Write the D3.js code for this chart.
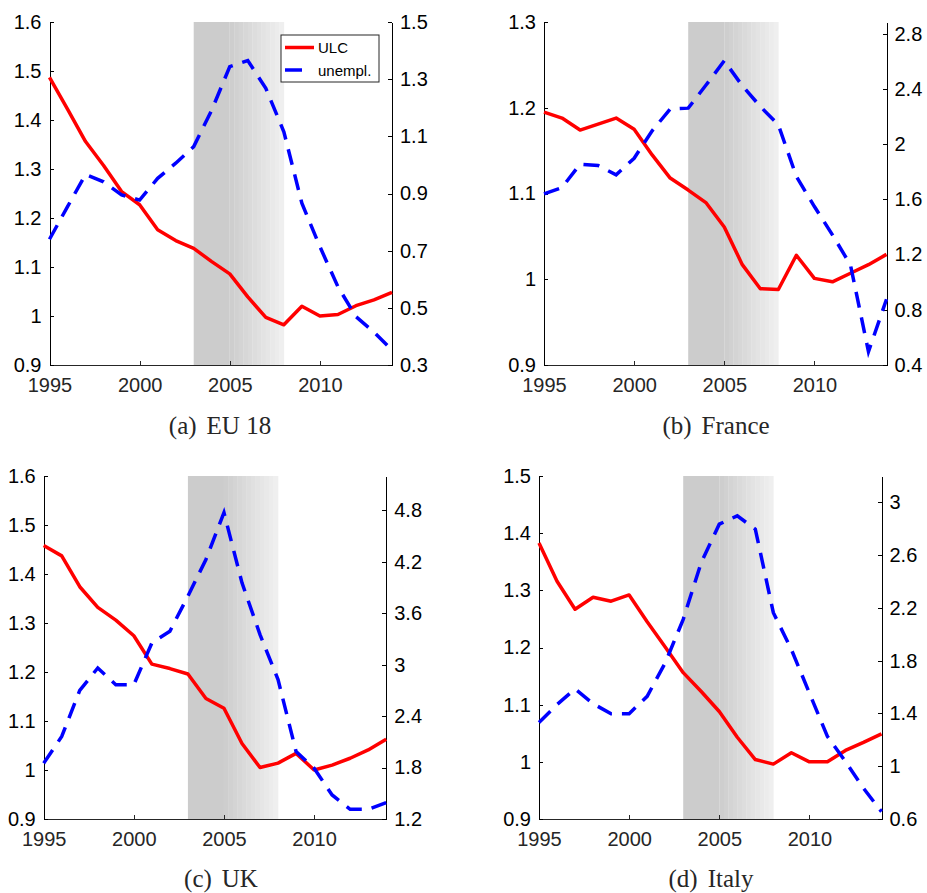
<!DOCTYPE html>
<meta charset="utf-8">
<html>
<head>
  <style>
    body { margin: 0; background: #fff; }
    .axis text { font-family: "Liberation Sans", Arial, sans-serif; font-size: 20px; }
    .axis path, .axis line { fill: none; shape-rendering: crispEdges; }
    .caption { font-family: "Liberation Serif", "DejaVu Serif", serif; font-size: 25px; fill: #262626; }
    .legend text { font-family: "Liberation Sans", Arial, sans-serif; font-size: 15px; fill: #000; }
  </style>
</head>
<body>
  <script src="https://d3js.org/d3.v7.min.js"></script>
  <script>
    // years on the x axis
    var years = d3.range(1995, 2015);
    var xTicks = [1995, 2000, 2005, 2010];

    // EU 18
    var ulcEU = [1.487, 1.422, 1.356, 1.307, 1.254, 1.227, 1.176, 1.154, 1.138, 1.111,
                 1.086, 1.039, 0.997, 0.982, 1.020, 1.000, 1.003, 1.021, 1.033, 1.048];
    var unEU  = [0.740, 0.854, 0.967, 0.941, 0.895, 0.877, 0.953, 1.006, 1.064, 1.192,
                 1.344, 1.365, 1.268, 1.116, 0.866, 0.714, 0.574, 0.469, 0.415, 0.352];

    // France
    var ulcFR = [1.195, 1.188, 1.174, 1.181, 1.188, 1.175, 1.145, 1.118, 1.104, 1.089,
                 1.061, 1.017, 0.989, 0.988, 1.028, 1.001, 0.997, 1.007, 1.017, 1.029];
    var unFR  = [1.640, 1.686, 1.855, 1.845, 1.778, 1.898, 2.097, 2.254, 2.261, 2.430,
                 2.604, 2.423, 2.273, 2.140, 1.766, 1.548, 1.343, 1.125, 0.497, 0.876];

    // UK
    var ulcUK = [1.458, 1.437, 1.374, 1.332, 1.306, 1.274, 1.216, 1.207, 1.196, 1.146,
                 1.126, 1.054, 1.005, 1.014, 1.034, 1.000, 1.010, 1.024, 1.041, 1.063];
    var unUK  = [1.851, 2.162, 2.700, 2.961, 2.766, 2.766, 3.253, 3.390, 3.799, 4.227,
                 4.773, 3.954, 3.351, 2.825, 1.987, 1.792, 1.480, 1.313, 1.313, 1.391];

    // Italy
    var ulcIT = [1.383, 1.316, 1.267, 1.288, 1.281, 1.292, 1.245, 1.201, 1.156, 1.123,
                 1.088, 1.043, 1.004, 0.996, 1.016, 1.000, 1.000, 1.020, 1.034, 1.049];
    var unIT  = [1.332, 1.467, 1.586, 1.474, 1.398, 1.398, 1.530, 1.783, 2.113, 2.544,
                 2.835, 2.898, 2.797, 2.164, 1.885, 1.555, 1.226, 1.036, 0.833, 0.656];

    // tick labels
    var leftTicksA = ["0.9", "1", "1.1", "1.2", "1.3", "1.4", "1.5", "1.6"];
    var rightTicksA = ["0.3", "0.5", "0.7", "0.9", "1.1", "1.3", "1.5"];
    var leftTicksB = ["0.9", "1", "1.1", "1.2", "1.3"];
    var rightTicksB = ["0.4", "0.8", "1.2", "1.6", "2", "2.4", "2.8"];
    var leftTicksC = ["0.9", "1", "1.1", "1.2", "1.3", "1.4", "1.5", "1.6"];
    var rightTicksC = ["1.2", "1.8", "2.4", "3", "3.6", "4.2", "4.8"];
    var leftTicksD = ["0.9", "1", "1.1", "1.2", "1.3", "1.4", "1.5"];
    var rightTicksD = ["0.6", "1", "1.4", "1.8", "2.2", "2.6", "3"];

    var shadeStart = 2003, fadeStart = 2005, shadeEnd = 2008;

    var panels = [
      { cap: "(a)", name: "EU 18", ulc: ulcEU, un: unEU, left: [0.9, 1.6], right: [0.3, 1.5],
        lt: leftTicksA, rt: rightTicksA, x0: 49.5, y0: 22, capX: 220, capY: 434, legend: true },
      { cap: "(b)", name: "France", ulc: ulcFR, un: unFR, left: [0.9, 1.3], right: [0.4, 2.885],
        lt: leftTicksB, rt: rightTicksB, x0: 544, y0: 22, capX: 716, capY: 434 },
      { cap: "(c)", name: "UK", ulc: ulcUK, un: unUK, left: [0.9, 1.6], right: [1.2, 5.2],
        lt: leftTicksC, rt: rightTicksC, x0: 43.7, y0: 476, capX: 221, capY: 887 },
      { cap: "(d)", name: "Italy", ulc: ulcIT, un: unIT, left: [0.9, 1.5], right: [0.6, 3.2],
        lt: leftTicksD, rt: rightTicksD, x0: 539, y0: 476, capX: 711, capY: 887 }
    ];

    var width = 342.5, height = 343;

    var svg = d3.select("body").append("svg")
      .attr("width", 927)
      .attr("height", 893);

    panels.forEach(function (p) {
      var g = svg.append("g")
        .attr("transform", "translate(" + p.x0 + "," + p.y0 + ")");

      var x = d3.scaleLinear().domain([1995, 2014]).range([0, width]);
      var yL = d3.scaleLinear().domain(p.left).range([height, 0]);
      var yR = d3.scaleLinear().domain(p.right).range([height, 0]);

      // grey band, solid then fading out
      g.append("rect")
        .attr("x", x(shadeStart))
        .attr("y", 0)
        .attr("width", x(fadeStart) - x(shadeStart))
        .attr("height", height)
        .attr("fill", "#cccccc");

      var steps = d3.range(fadeStart, shadeEnd, 0.25);
      g.selectAll(".fade")
        .data(steps)
        .enter().append("rect")
        .attr("class", "fade")
        .attr("x", function (d) { return x(d); })
        .attr("y", 0)
        .attr("width", x(0.25) - x(0) + 0.3)
        .attr("height", height)
        .attr("fill", function (d, i) {
          var v = Math.round(206 + i * 3);
          return d3.rgb(v, v, v);
        });

      // axes
      g.append("g")
        .attr("class", "axis")
        .attr("color", "#262626")
        .attr("transform", "translate(0," + height + ")")
        .call(d3.axisBottom(x).tickValues(xTicks).tickFormat(d3.format("d"))
          .tickSize(-4).tickSizeOuter(0).tickPadding(13));

      g.append("g")
        .attr("class", "axis")
        .attr("color", "#000")
        .call(d3.axisLeft(yL).tickValues(p.lt.map(Number)).tickFormat(function (d, i) { return p.lt[i]; })
          .tickSize(-4).tickSizeOuter(0).tickPadding(8));

      g.append("g")
        .attr("class", "axis")
        .attr("color", "#000")
        .attr("transform", "translate(" + width + ",0)")
        .call(d3.axisRight(yR).tickValues(p.rt.map(Number)).tickFormat(function (d, i) { return p.rt[i]; })
          .tickSize(-4).tickSizeOuter(0).tickPadding(8));

      // series
      var lineL = d3.line()
        .x(function (d, i) { return x(years[i]); })
        .y(function (d) { return yL(d); });
      var lineR = d3.line()
        .x(function (d, i) { return x(years[i]); })
        .y(function (d) { return yR(d); });

      g.append("path")
        .datum(p.ulc)
        .attr("d", lineL)
        .attr("fill", "none")
        .attr("stroke", "#ff0000")
        .attr("stroke-width", 3.5)
        .attr("stroke-linejoin", "round");

      g.append("path")
        .datum(p.un)
        .attr("d", lineR)
        .attr("fill", "none")
        .attr("stroke", "#0000ff")
        .attr("stroke-width", 3.5)
        .attr("stroke-dasharray", "16,10");

      // caption under each panel
      var cap = svg.append("text")
        .attr("class", "caption")
        .attr("x", p.capX)
        .attr("y", p.capY)
        .attr("text-anchor", "middle");
      cap.append("tspan").text(p.cap);
      cap.append("tspan").attr("dx", 10).text(p.name);

      if (p.legend) {
        var lg = g.append("g").attr("class", "legend")
          .attr("transform", "translate(" + (281 - p.x0) + "," + (35 - p.y0) + ")");
        lg.append("rect")
          .attr("width", 98).attr("height", 47)
          .attr("fill", "#fff")
          .attr("stroke", "#262626")
          .attr("stroke-width", 1);
        lg.append("line")
          .attr("x1", 4).attr("x2", 33).attr("y1", 12.5).attr("y2", 12.5)
          .attr("stroke", "#ff0000").attr("stroke-width", 3.5);
        lg.append("line")
          .attr("x1", 4).attr("x2", 21).attr("y1", 35).attr("y2", 35)
          .attr("stroke", "#0000ff").attr("stroke-width", 3.5);
        lg.append("text").attr("x", 37).attr("y", 18).text("ULC");
        lg.append("text").attr("x", 37).attr("y", 40.5).text("unempl.");
      }
    });
  </script>
</body>
</html>
